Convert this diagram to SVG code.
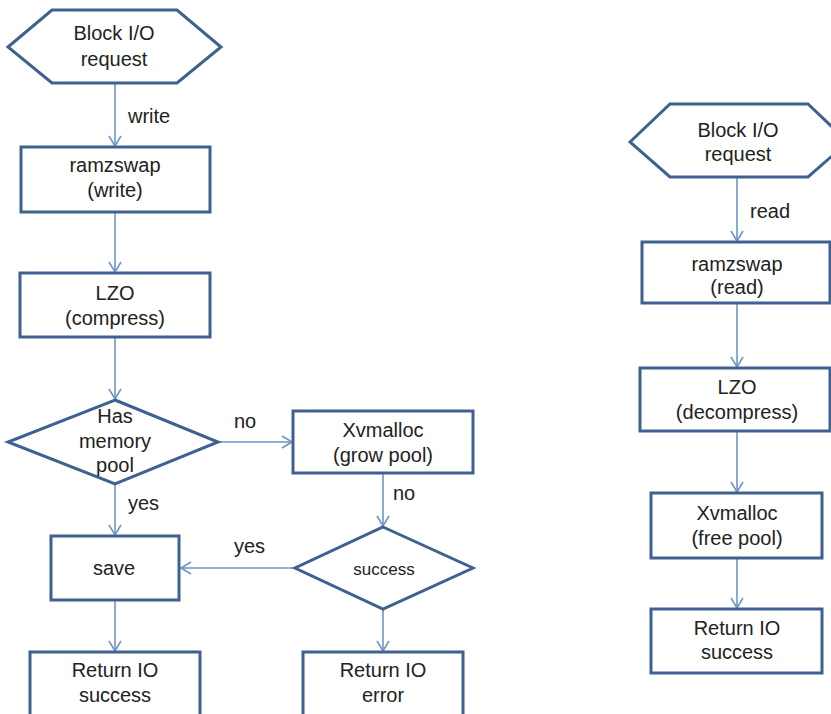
<svg xmlns="http://www.w3.org/2000/svg" width="831" height="714" viewBox="0 0 831 714">
<style>
.n{fill:#fff;stroke:#3F6190;stroke-width:3}
.c{fill:none;stroke:#6E95C9;stroke-width:1.6}
text{font-family:"Liberation Sans",Arial,sans-serif;font-size:20px;fill:#222;text-anchor:middle}
.l{text-anchor:start}
.s{font-size:17px}
</style>
<defs>
<marker id="a" markerUnits="userSpaceOnUse" markerWidth="14" markerHeight="14" viewBox="0 0 14 14" refX="12" refY="7" orient="auto">
<path d="M2,1 L12,7 L2,13" fill="none" stroke="#6E95C9" stroke-width="1.6"/>
</marker>
</defs>
<rect width="831" height="714" fill="#fff"/>
<g id="connectors">
<line class="c" x1="115" y1="83" x2="115" y2="146" marker-end="url(#a)"/>
<line class="c" x1="115" y1="212" x2="115" y2="272" marker-end="url(#a)"/>
<line class="c" x1="115" y1="337" x2="115" y2="399" marker-end="url(#a)"/>
<line class="c" x1="218" y1="442" x2="292" y2="442" marker-end="url(#a)"/>
<line class="c" x1="115" y1="484" x2="115" y2="535" marker-end="url(#a)"/>
<line class="c" x1="383" y1="473" x2="383" y2="526" marker-end="url(#a)"/>
<line class="c" x1="295" y1="568" x2="181" y2="568" marker-end="url(#a)"/>
<line class="c" x1="383" y1="610" x2="383" y2="651" marker-end="url(#a)"/>
<line class="c" x1="115" y1="600" x2="115" y2="651" marker-end="url(#a)"/>
<line class="c" x1="737" y1="177" x2="737" y2="241" marker-end="url(#a)"/>
<line class="c" x1="737" y1="303" x2="737" y2="367" marker-end="url(#a)"/>
<line class="c" x1="737" y1="431" x2="737" y2="492" marker-end="url(#a)"/>
<line class="c" x1="737" y1="558" x2="737" y2="608" marker-end="url(#a)"/>
<text class="l" x="128" y="123">write</text>
<text class="l" x="234" y="428">no</text>
<text class="l" x="128" y="510">yes</text>
<text class="l" x="393" y="500">no</text>
<text class="l" x="234" y="553">yes</text>
<text class="l" x="750" y="218">read</text>
</g>
<g id="w-start">
<polygon class="n" points="8,47 52,10 177,10 221,47 177,83 52,83"/>
<text x="114" y="40">Block I/O</text>
<text x="114" y="66">request</text>
</g>
<g id="w-ramzswap">
<rect class="n" x="21" y="147" width="189" height="65"/>
<text x="115" y="172">ramzswap</text>
<text x="115" y="197">(write)</text>
</g>
<g id="w-lzo">
<rect class="n" x="20" y="273" width="190" height="64"/>
<text x="115" y="300">LZO</text>
<text x="115" y="325">(compress)</text>
</g>
<g id="w-has-pool">
<polygon class="n" points="115,400 218,442 115,484 8,442"/>
<text x="115" y="423">Has</text>
<text x="115" y="448">memory</text>
<text x="115" y="472">pool</text>
</g>
<g id="w-grow">
<rect class="n" x="293" y="411" width="180" height="62"/>
<text x="383" y="437">Xvmalloc</text>
<text x="383" y="462">(grow pool)</text>
</g>
<g id="w-success">
<polygon class="n" points="383,527 473,568 383,609 295,568"/>
<text class="s" x="384" y="575">success</text>
</g>
<g id="w-save">
<rect class="n" x="51" y="536" width="128" height="64"/>
<text x="114" y="575">save</text>
</g>
<g id="w-ret-ok">
<rect class="n" x="30" y="652" width="170" height="80"/>
<text x="115" y="677">Return IO</text>
<text x="115" y="702">success</text>
</g>
<g id="w-ret-err">
<rect class="n" x="303" y="652" width="160" height="80"/>
<text x="383" y="677">Return IO</text>
<text x="383" y="702">error</text>
</g>
<g id="r-start">
<polygon class="n" points="630,142 670,104 808,104 848,142 808,177 670,177"/>
<text x="738" y="137">Block I/O</text>
<text x="738" y="161">request</text>
</g>
<g id="r-ramzswap">
<rect class="n" x="642" y="242" width="188" height="61"/>
<text x="737" y="271">ramzswap</text>
<text x="737" y="294">(read)</text>
</g>
<g id="r-lzo">
<rect class="n" x="640" y="368" width="190" height="63"/>
<text x="737" y="394">LZO</text>
<text x="737" y="419">(decompress)</text>
</g>
<g id="r-free">
<rect class="n" x="651" y="493" width="171" height="65"/>
<text x="737" y="520">Xvmalloc</text>
<text x="737" y="545">(free pool)</text>
</g>
<g id="r-ret">
<rect class="n" x="651" y="609" width="171" height="64"/>
<text x="737" y="635">Return IO</text>
<text x="737" y="659">success</text>
</g>
</svg>
